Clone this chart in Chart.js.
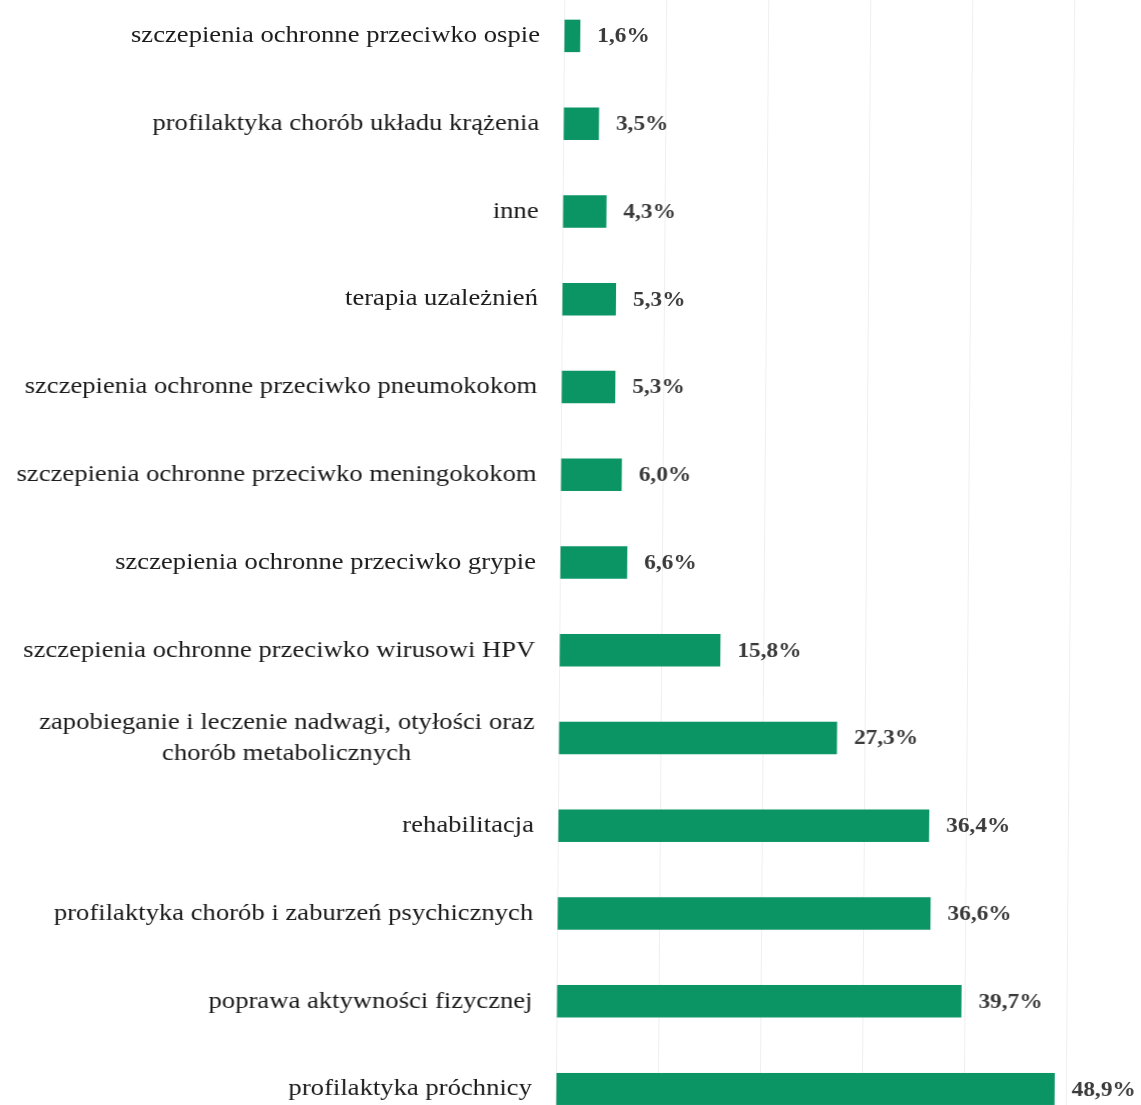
<!DOCTYPE html>
<html>
<head>
<meta charset="utf-8">
<script src="https://cdn.jsdelivr.net/npm/chart.js@4/dist/chart.umd.min.js"></script>
<style>
  html, body { margin: 0; padding: 0; background: #fff; overflow: hidden; }
  #wrap { position: absolute; left: 0; top: -8px; width: 1141px; height: 1141px;
          transform: skewX(-0.44deg); transform-origin: 570px 560px; }
</style>
</head>
<body>
<div id="wrap"><canvas id="barChart"></canvas></div>
<script>
// categories, top to bottom
const categories = [
  'szczepienia ochronne przeciwko ospie',
  'profilaktyka chorób układu krążenia',
  'inne',
  'terapia uzależnień',
  'szczepienia ochronne przeciwko pneumokokom',
  'szczepienia ochronne przeciwko meningokokom',
  'szczepienia ochronne przeciwko grypie',
  'szczepienia ochronne przeciwko wirusowi HPV',
  ['zapobieganie i leczenie nadwagi, otyłości oraz', 'chorób metabolicznych'],
  'rehabilitacja',
  'profilaktyka chorób i zaburzeń psychicznych',
  'poprawa aktywności fizycznej',
  'profilaktyka próchnicy'
];
// share of answers [%]
const values = [1.6, 3.5, 4.3, 5.3, 5.3, 6.0, 6.6, 15.8, 27.3, 36.4, 36.6, 39.7, 48.9];

const barColor = '#0b9565';
const serif = '"Liberation Serif", "Times New Roman", serif';
const stretch = 1.11; // text is set a little wide

function wideText(ctx, txt, x, y) {
  ctx.save();
  ctx.translate(x, y);
  ctx.scale(stretch, 1);
  ctx.fillText(txt, 0, 0);
  ctx.restore();
}

// category names, each block centred on its widest line, right edge fixed
const categoryLabels = {
  id: 'categoryLabels',
  afterDraw(chart) {
    const ctx = chart.ctx;
    const y = chart.scales.y;
    const right = chart.chartArea.left - 24;
    ctx.save();
    ctx.font = '24px ' + serif;
    ctx.fillStyle = '#1a1a1a';
    ctx.textAlign = 'center';
    ctx.textBaseline = 'middle';
    categories.forEach((cat, i) => {
      const lines = Array.isArray(cat) ? cat : [cat];
      const w = Math.max(...lines.map(l => ctx.measureText(l).width)) * stretch;
      const cx = right - w / 2;
      const lh = 31;
      const y0 = y.getPixelForValue(i) - (lines.length - 1) * lh / 2;
      lines.forEach((l, k) => wideText(ctx, l, cx, y0 + k * lh));
    });
    ctx.restore();
  }
};

// value labels at the end of each bar
const valueLabels = {
  id: 'valueLabels',
  afterDatasetsDraw(chart) {
    const ctx = chart.ctx;
    const meta = chart.getDatasetMeta(0);
    ctx.save();
    ctx.font = 'bold 21px ' + serif;
    ctx.fillStyle = '#3a3a3a';
    ctx.textAlign = 'left';
    ctx.textBaseline = 'middle';
    meta.data.forEach((bar, i) => {
      const txt = values[i].toFixed(1).replace('.', ',') + '%';
      wideText(ctx, txt, bar.x + 17, bar.y + 1);
    });
    ctx.restore();
  }
};

const data = {
  labels: categories,
  datasets: [{
    data: values,
    backgroundColor: barColor,
    borderWidth: 0,
    barPercentage: 0.37,
    categoryPercentage: 1
  }]
};

const config = {
  type: 'bar',
  data: data,
  options: {
    indexAxis: 'y',
    responsive: true,
    maintainAspectRatio: false,
    animation: false,
    layout: { padding: { left: 0, right: 71, top: 0, bottom: 0 } },
    plugins: {
      legend: { display: false },
      tooltip: { enabled: false }
    },
    scales: {
      x: {
        min: 0,
        max: 50,
        ticks: { display: false, stepSize: 10 },
        grid: { color: '#efefef', drawTicks: false },
        border: { display: false }
      },
      y: {
        ticks: { display: false },
        grid: { display: false, drawTicks: false },
        border: { display: false },
        afterFit(scale) { scale.width = 560; }
      }
    }
  },
  plugins: [categoryLabels, valueLabels]
};

new Chart(document.getElementById('barChart'), config);
</script>
</body>
</html>
